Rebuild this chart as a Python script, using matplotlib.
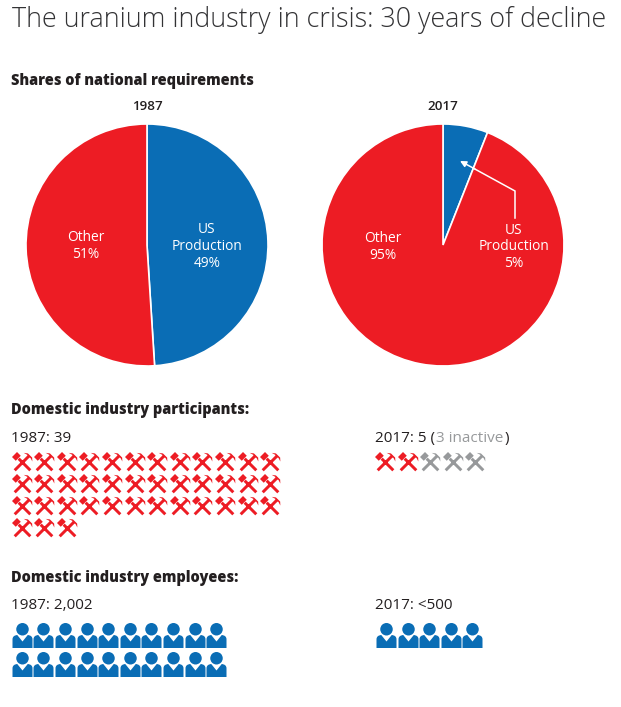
import matplotlib
matplotlib.use("Agg")
import matplotlib.pyplot as plt
from matplotlib.path import Path
from matplotlib.transforms import Affine2D
import numpy as np

RED = "#ed1c24"
BLUE = "#0a6db5"
GREY = "#97999b"
DARK = "#231f20"

plt.rcParams["font.family"] = ["Open Sans", "DejaVu Sans"]

title = "The uranium industry in crisis: 30 years of decline"
pie_years = ["1987", "2017"]
us_shares = [49, 6]  # drawn wedge, the 2017 label says 5%
other_shares = [51, 94]
us_labels = ["US\nProduction\n49%", "US\nProduction\n5%"]
other_labels = ["Other\n51%", "Other\n95%"]

participants_1987 = 39
participants_2017_active = 2
participants_2017_inactive = 3
employee_icons_1987 = 20
employee_icons_2017 = 5


def rect(x0, x1, half, angle, dy=0.0):
    # bar along x, rotated about the origin
    pts = np.array([[x0, -half + dy], [x1, -half + dy], [x1, half + dy], [x0, half + dy], [x0, -half + dy]])
    codes = [Path.MOVETO, Path.LINETO, Path.LINETO, Path.LINETO, Path.CLOSEPOLY]
    return Path(pts, codes).transformed(Affine2D().rotate_deg(angle))


def hammer_pick():
    parts = [
        rect(-1.12, 0.95, 0.15, 45),  # pick handle, runs up into the blade
        rect(-1.12, 0.55, 0.15, 135),  # hammer handle
        rect(-0.36, 0.36, 0.27, 45).transformed(Affine2D().translate(-0.62, 0.62)),  # hammer head
    ]
    # pick blade, counter clockwise like the bars so the overlap stays filled
    arc = np.array([[0.12, 0.98], [0.48, 0.78], [0.82, 0.44], [1.0, 0.1],
                    [0.98, 0.5], [0.55, 0.92], [0.12, 0.98], [0.12, 0.98]])
    parts.append(Path(arc, [Path.MOVETO, Path.LINETO, Path.LINETO, Path.LINETO,
                            Path.LINETO, Path.LINETO, Path.LINETO, Path.CLOSEPOLY]))
    return Path.make_compound_path(*parts)


def person():
    head = Path.unit_circle().transformed(Affine2D().scale(0.5).translate(0, 0.5))
    body = Path(
        [[-0.8, -1], [0.8, -1], [0.8, -0.3], [0.8, 0.0], [0.42, 0.04],
         [0, -0.48], [-0.42, 0.04], [-0.8, 0.0], [-0.8, -0.3], [-0.8, -1]],
        [Path.MOVETO, Path.LINETO, Path.LINETO, Path.CURVE3, Path.CURVE3,
         Path.LINETO, Path.LINETO, Path.CURVE3, Path.CURVE3, Path.CLOSEPOLY],
    )
    return Path.make_compound_path(head, body)


def grid(n, x0, y0, dx, dy, per_row):
    idx = np.arange(n)
    return x0 + (idx % per_row) * dx, y0 + (idx // per_row) * dy


fig = plt.figure(figsize=(6.21, 7.07), dpi=100, facecolor="white")
W, H = 621, 707


def pie_axes(left, top, size):
    return fig.add_axes([left / W, 1 - (top + size) / H, size / W, size / H])


for i, left in enumerate([26, 322]):
    ax = pie_axes(left, 124, 242)
    ax.pie([us_shares[i], other_shares[i]], colors=[BLUE, RED], startangle=90, counterclock=False,
           radius=1, wedgeprops=dict(edgecolor="white", linewidth=1.2))
    ax.set_xlim(-1, 1)
    ax.set_ylim(-1, 1)

ov = fig.add_axes([0, 0, 1, 1], facecolor="none")
ov.set_xlim(0, W)
ov.set_ylim(H, 0)
ov.axis("off")

ov.text(12, 20, title, fontsize=19.35, fontweight="light", color="#333335", va="center")

ov.text(11, 81, "Shares of national requirements", fontsize=10.45, fontweight=800, color=DARK, va="center")
ov.text(147, 107, pie_years[0], fontsize=9.6, fontweight=600, color=DARK, ha="center", va="center")
ov.text(443, 107, pie_years[1], fontsize=9.6, fontweight=600, color=DARK, ha="center", va="center")

label_style = dict(fontsize=9.9, color="white", ha="center", va="center", linespacing=1.17)
ov.text(86, 246, other_labels[0], **label_style)
ov.text(207, 246.5, us_labels[0], **label_style)
ov.text(383, 247, other_labels[1], **label_style)
ov.text(514, 247, us_labels[1], **label_style)

# leader line in the 2017 pie
ov.plot([515, 515, 473], [218, 191, 168], color="white", lw=1.1, solid_joinstyle="miter")
ov.annotate("", xy=(460, 161), xytext=(475, 169),
            arrowprops=dict(arrowstyle="-|>", color="white", lw=1.1, mutation_scale=9, shrinkA=0, shrinkB=0))

ov.text(11, 410, "Domestic industry participants:", fontsize=10.45, fontweight=800, color=DARK, va="center")
ov.text(11, 442, "1987: 39", fontsize=11, color=DARK, va="baseline")
ov.text(375, 442, "2017: 5 (", fontsize=11, color=DARK, va="baseline")
ov.text(436, 442, "3 inactive", fontsize=11, color=GREY, va="baseline")
ov.text(505, 442, ")", fontsize=11, color=DARK, va="baseline")

ov.text(11, 578, "Domestic industry employees:", fontsize=10.45, fontweight=800, color=DARK, va="center")
ov.text(11, 609, "1987: 2,002", fontsize=11, color=DARK, va="baseline")
ov.text(375, 609, "2017: <500", fontsize=11, color=DARK, va="baseline")

pick = hammer_pick()
man = person()
pick_size = (21 * 0.72) ** 2
man_size = (25 * 0.72) ** 2


def icons(n, x0, y0, dx, dy, per_row, marker, size, color):
    xs, ys = grid(n, x0, y0, dx, dy, per_row)
    ov.scatter(xs, ys, s=size, marker=marker, color=color, linewidths=0)


icons(participants_1987, 21.5, 462, 22.6, 22, 12, pick, pick_size, RED)
icons(participants_2017_active, 385, 462, 22.5, 22, 12, pick, pick_size, RED)
icons(participants_2017_inactive, 385 + 2 * 22.5, 462, 22.5, 22, 12, pick, pick_size, GREY)

icons(employee_icons_1987, 21.7, 634.5, 21.6, 29.5, 10, man, man_size, BLUE)
icons(employee_icons_2017, 386, 634.5, 21.6, 29.5, 10, man, man_size, BLUE)

fig.savefig("out.png", dpi=100)
